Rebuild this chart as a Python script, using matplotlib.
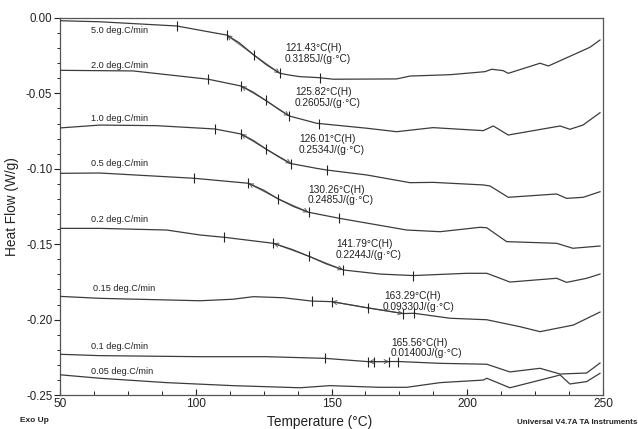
import numpy as np
import matplotlib
matplotlib.use("Agg")
import matplotlib.pyplot as plt
from matplotlib.ticker import MultipleLocator, FormatStrFormatter

plt.rcParams['font.family'] = ['Liberation Sans', 'DejaVu Sans']
plt.rcParams['axes.unicode_minus'] = False

# ---------------- data ----------------
rates = ["5.0 deg.C/min", "2.0 deg.C/min", "1.0 deg.C/min", "0.5 deg.C/min",
         "0.2 deg.C/min", "0.15 deg.C/min", "0.1 deg.C/min", "0.05 deg.C/min"]

t_50 = [50, 64.7, 93.0, 106.4, 111.4, 116.0, 121.1, 126.0, 131.0, 135.0, 138.4, 145.8, 150.6,
        174.0, 178.9, 193.6, 206.5, 209.0, 213.2, 215.1, 226.8, 229.9, 240.3, 245.2, 248.9]
hf_50 = [-0.0018, -0.0025, -0.0053, -0.0097, -0.0113, -0.0164, -0.0241, -0.0310, -0.0367, -0.0380,
         -0.0389, -0.0396, -0.0406, -0.0404, -0.0385, -0.0376, -0.0356, -0.0340, -0.0349, -0.0367,
         -0.0300, -0.0318, -0.0234, -0.0194, -0.0146]

t_20 = [50, 76.9, 104.6, 116.7, 121.0, 125.9, 130.5, 134.5, 144.5, 163.0, 174.0, 187.4, 205.9,
        209.6, 215.1, 234.2, 237.8, 242.6, 248.9]
hf_20 = [-0.0347, -0.0351, -0.0406, -0.0451, -0.0490, -0.0548, -0.0605, -0.0650, -0.0698, -0.0731,
         -0.0754, -0.0727, -0.0747, -0.0716, -0.0776, -0.0716, -0.0738, -0.0710, -0.0628]

t_10 = [50, 64.7, 85.6, 107.1, 116.6, 121.0, 125.9, 130.5, 134.7, 144.5, 148.2, 163.0, 178.9,
        187.5, 205.9, 208.4, 215.1, 232.9, 236.6, 242.7, 248.9]
hf_10 = [-0.0729, -0.0710, -0.0714, -0.0736, -0.0769, -0.0810, -0.0869, -0.0920, -0.0964, -0.0997,
         -0.1008, -0.1041, -0.1092, -0.1090, -0.1107, -0.1114, -0.1189, -0.1167, -0.1196, -0.1189,
         -0.1152]

t_05 = [50, 64.7, 99.5, 119.4, 125.0, 130.4, 136.0, 141.5, 152.8, 177.7, 190.0, 204.7, 207.2,
        214.5, 232.9, 238.9, 248.9]
hf_05 = [-0.1030, -0.1028, -0.1063, -0.1096, -0.1142, -0.1200, -0.1250, -0.1288, -0.1328, -0.1406,
         -0.1417, -0.1388, -0.1391, -0.1483, -0.1494, -0.1527, -0.1512]

t_02 = [50, 64.7, 89.3, 101.6, 110.4, 128.6, 135.5, 142.1, 148.0, 154.4, 167.9, 180.1, 199.8,
        207.2, 212.1, 215.7, 232.9, 236.6, 244.0, 248.9]
hf_02 = [-0.1395, -0.1395, -0.1406, -0.1439, -0.1454, -0.1494, -0.1535, -0.1583, -0.1630, -0.1671,
         -0.1698, -0.1708, -0.1693, -0.1693, -0.1726, -0.1751, -0.1726, -0.1753, -0.1726, -0.1698]

t_015 = [50, 64.7, 101.6, 113.7, 121.2, 132.2, 142.7, 150.1, 163.6, 176.4, 180.4, 193.6, 207.2,
         219.4, 226.8, 239.1, 248.9]
hf_015 = [-0.1846, -0.1859, -0.1875, -0.1865, -0.1848, -0.1855, -0.1877, -0.1881, -0.1923, -0.1960,
          -0.1958, -0.1991, -0.2001, -0.2047, -0.2080, -0.2036, -0.1950]

t_01 = [50, 64.7, 101.6, 126.1, 147.6, 163.6, 174.6, 190.0, 207.2, 215.7, 226.8, 234.2, 244.0, 248.9]
hf_01 = [-0.2230, -0.2239, -0.2246, -0.2246, -0.2257, -0.2279, -0.2278, -0.2290, -0.2296, -0.2347,
         -0.2323, -0.2361, -0.2354, -0.2288]

t_005 = [50, 64.7, 89.3, 113.7, 138.4, 149.4, 167.9, 177.7, 190.0, 205.9, 207.2, 215.7, 231.7,
         234.2, 237.8, 244.0, 248.9]
hf_005 = [-0.2366, -0.2389, -0.2418, -0.2438, -0.2452, -0.2438, -0.2449, -0.2449, -0.2418, -0.2401,
          -0.2389, -0.2452, -0.2379, -0.2367, -0.2427, -0.2411, -0.2356]

temps = [t_50, t_20, t_10, t_05, t_02, t_015, t_01, t_005]
flows = [hf_50, hf_20, hf_10, hf_05, hf_02, hf_015, hf_01, hf_005]

# glass transition results: [limit1, onset, midpoint, end, limit2]
tg_marks = [
    [93.0, 111.4, 121.43, 131.0, 145.8],
    [104.6, 116.7, 125.82, 134.5, 145.5],
    [107.1, 116.6, 126.01, 135.2, 148.2],
    [99.5, 119.4, 130.26, 141.6, 152.8],
    [110.4, 128.6, 141.79, 154.3, 180.1],
    [142.7, 150.1, 163.29, 176.4, 180.4],
    [147.6, 163.6, 165.56, 171.3, 174.6],
    None,
]
tg_text = ["121.43°C(H)", "125.82°C(H)", "126.01°C(H)", "130.26°C(H)",
           "141.79°C(H)", "163.29°C(H)", "165.56°C(H)", None]
cp_text = ["0.3185J/(g·°C)", "0.2605J/(g·°C)", "0.2534J/(g·°C)", "0.2485J/(g·°C)",
           "0.2244J/(g·°C)", "0.09330J/(g·°C)", "0.01400J/(g·°C)", None]

# ---------------- layout ----------------
label_pos = [(61.4, -0.0086), (61.4, -0.0316), (61.4, -0.0665), (61.4, -0.0968),
             (61.4, -0.1335), (62.2, -0.1792), (61.4, -0.2180), (61.4, -0.2341)]
ann_pos = [(132.8, -0.0201, -0.0274), (136.4, -0.0493, -0.0562), (138.0, -0.0804, -0.0875),
           (141.2, -0.1141, -0.1207), (151.5, -0.1499, -0.1572), (169.0, -0.1844, -0.1914),
           (171.7, -0.2157, -0.2223), None]

W, H = 638, 429
fig = plt.figure(figsize=(W / 100, H / 100), dpi=100)
ax = fig.add_axes([60 / W, 1 - 395 / H, 543 / W, 377 / H])

curve_col = '#3c3c3c'
for i in range(len(rates)):
    t = np.array(temps[i]); f = np.array(flows[i])
    ax.plot(t, f, color=curve_col, lw=0.9, zorder=3)
    ax.text(label_pos[i][0], label_pos[i][1], rates[i], fontsize=6.6, va='center', ha='left',
            color='#222222')
    m = tg_marks[i]
    if m is not None:
        mt = np.array(m)
        my = np.interp(mt, t, f)
        ax.plot(mt, my, ls='none', marker='|', ms=7, mew=0.8, color='#222222', zorder=4)
        # tangent construction lines with arrows at onset / end
        for j in (1, 3):
            ax.annotate('', xy=(mt[j], my[j]), xytext=(mt[2], my[2]),
                        arrowprops=dict(arrowstyle='->', color='#707070', lw=0.8,
                                        shrinkA=0, shrinkB=0, mutation_scale=7), zorder=2)
        p = ann_pos[i]
        ax.text(p[0] + 0.3, p[1], tg_text[i], fontsize=7.3, va='center', ha='left', color='#222222')
        ax.text(p[0], p[2], cp_text[i], fontsize=7.3, va='center', ha='left', color='#222222')

ax.set_xlim(50, 250)
ax.set_ylim(-0.25, 0.0)
ax.xaxis.set_major_locator(MultipleLocator(50))
ax.xaxis.set_minor_locator(MultipleLocator(12.5))
ax.yaxis.set_major_locator(MultipleLocator(0.05))
ax.yaxis.set_minor_locator(MultipleLocator(0.01))
ax.yaxis.set_major_formatter(FormatStrFormatter('%.2f'))
ax.tick_params(axis='x', which='major', direction='in', length=4, width=0.8, pad=2.5,
               labelsize=8.6, colors='#222222', top=False)
ax.tick_params(axis='x', which='minor', direction='in', length=3, width=0.6, top=False)
ax.tick_params(axis='y', which='major', direction='out', length=4, width=0.8, pad=1.5,
               labelsize=8.3, colors='#222222', right=False)
ax.tick_params(axis='y', which='minor', direction='out', length=2, width=0.6, right=False)
for s in ax.spines.values():
    s.set_color('#555555'); s.set_linewidth(0.9)

ax.set_ylabel('Heat Flow (W/g)', fontsize=9.8, color='#222222', labelpad=5)
fig.text(320 / W, 1 - 422 / H, 'Temperature (°C)', fontsize=9.8, ha='center', va='center',
         color='#222222')
fig.text(20 / W, 1 - 421 / H, 'Exo Up', fontsize=6, fontweight='bold', ha='left', va='center',
         color='#222222')
fig.text(637 / W, 1 - 423 / H, 'Universal V4.7A TA Instruments', fontsize=5.8, fontweight='bold',
         ha='right', va='center', color='#222222')

fig.savefig('out.png', dpi=100)
